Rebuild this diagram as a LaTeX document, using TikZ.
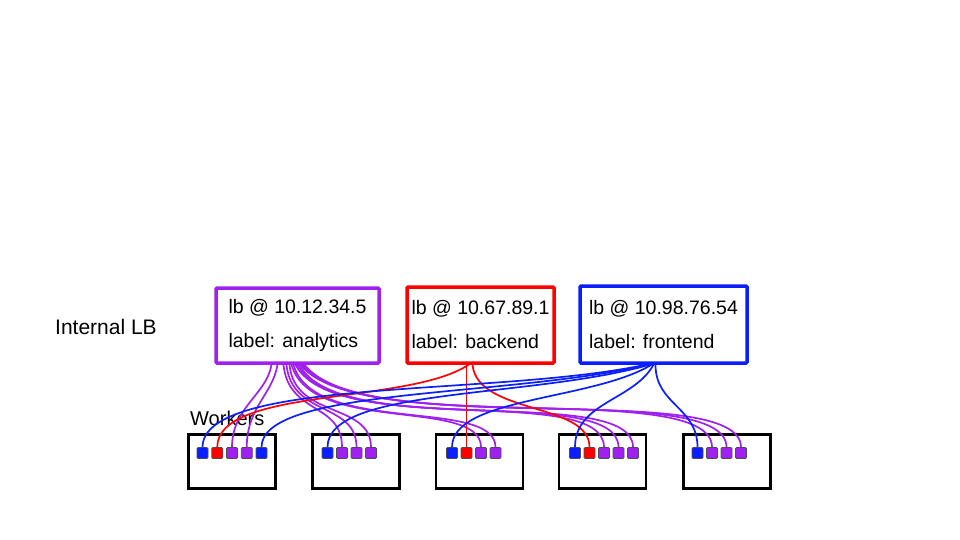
\documentclass[tikz,border=0pt]{standalone}
\usepackage{fontspec}
\setmainfont{Liberation Sans}
\usetikzlibrary{calc}

\definecolor{lbpurple}{HTML}{A020F0}
\definecolor{lbred}{HTML}{FF0000}
\definecolor{lbblue}{HTML}{0A1EFF}

\tikzset{
  lbbox/.style={draw, line width=3.5pt, rounded corners=1pt, align=left, inner sep=0pt,
    font=\fontsize{19.5}{34}\selectfont},
  workerbox/.style={draw, line width=2.2pt, minimum width=87pt, minimum height=54pt, inner sep=0pt},
  port/.style={draw=black!70, line width=0.6pt, rounded corners=1pt, minimum size=11pt, inner sep=0pt},
  wire/.style={line width=1.7pt},
  hand/.style={font=\fontsize{20}{22}\selectfont, inner sep=0pt, anchor=west},
}

\begin{document}
\begin{tikzpicture}[x=1pt,y=-1pt]
  \useasboundingbox (0,0) rectangle (960,540);
  % labels
  \node[hand, font=\fontsize{21}{22}\selectfont] (intLB) at (55,327) {Internal LB};
  \node[hand] (workers) at (190,418) {Workers};
  %% the load balancers
  \node[lbbox, draw=lbpurple, minimum width=163pt, minimum height=75pt] (lbAnalytics) at (297.5,325.5)
    {lb @ 10.12.34.5\\label: analytics};
  \node[lbbox, draw=lbred, minimum width=147pt, minimum height=76pt] (lbBackend) at (480.5,325)
    {lb @ 10.67.89.1\\label: backend};
  \node[lbbox, draw=lbblue, minimum width=167pt, minimum height=77pt] (lbFrontend) at (663.5,324.5)
    {lb @ 10.98.76.54\\label: frontend};
  %% the workers
  \node[workerbox] (w1) at (232,461.5) {};
  \node[workerbox] (w2) at (356,461.5) {};
  \node[workerbox] (w3) at (479.5,461.5) {};
  \node[workerbox] (w4) at (602.5,461.5) {};
  \node[workerbox] (w5) at (727,461.5) {};
  %% the ports
  \foreach \c [count=\i] in {lbblue,lbred,lbpurple,lbpurple,lbblue}
    \node[port, fill=\c] (w1-\i) at ({202.5+14.75*(\i-1)},453) {};
  \foreach \c [count=\i] in {lbblue,lbpurple,lbpurple,lbpurple}
    \node[port, fill=\c] (w2-\i) at ({327.5+14.5*(\i-1)},453) {};
  \foreach \c [count=\i] in {lbblue,lbred,lbpurple,lbpurple}
    \node[port, fill=\c] (w3-\i) at ({452+14.5*(\i-1)},453) {};
  \foreach \c [count=\i] in {lbblue,lbred,lbpurple,lbpurple,lbpurple}
    \node[port, fill=\c] (w4-\i) at ({575+14.5*(\i-1)},453) {};
  \foreach \c [count=\i] in {lbblue,lbpurple,lbpurple,lbpurple}
    \node[port, fill=\c] (w5-\i) at ({697.5+14.5*(\i-1)},453) {};
  %% wires: port / start offset / first control / second control
  \foreach \p/\dx/\ox/\oy/\iy in {w1-3/-26/-5/30/-40, w1-4/-20/-5/30/-40,
      w2-2/-14/5/50/-45, w2-3/-11/5/52/-45, w2-4/-8/5/54/-45,
      w3-3/-6/20/70/-50, w3-4/-4/20/71/-50,
      w4-3/-2/40/75/-65, w4-4/0/40/76/-65, w4-5/2/40/77/-65,
      w5-2/3/60/75/-70, w5-3/5/60/76/-70, w5-4/7/60/77/-70}
    \draw[wire, lbpurple] ($(lbAnalytics.south)+(\dx,0)$) .. controls +(\ox,\oy) and +(0,\iy) .. (\p.north);
  \foreach \p/\dx/\ox/\oy/\iy in {w1-2/-12/-60/40/-60, w3-2/-14/0/30/-30, w4-2/-8/5/50/-45}
    \draw[wire, lbred] ($(lbBackend.south)+(\dx,0)$) .. controls +(\ox,\oy) and +(0,\iy) .. (\p.north);
  \foreach \p/\dx/\ox/\oy/\iy in {w1-1/-18/-150/32/-70, w1-5/-16/-140/33/-60, w2-1/-14/-120/34/-60,
      w3-1/-12/-60/36/-50, w4-1/-10/-20/36/-45, w5-1/-8/0/40/-40}
    \draw[wire, lbblue] ($(lbFrontend.south)+(\dx,0)$) .. controls +(\ox,\oy) and +(0,\iy) .. (\p.north);
\end{tikzpicture}
\end{document}
